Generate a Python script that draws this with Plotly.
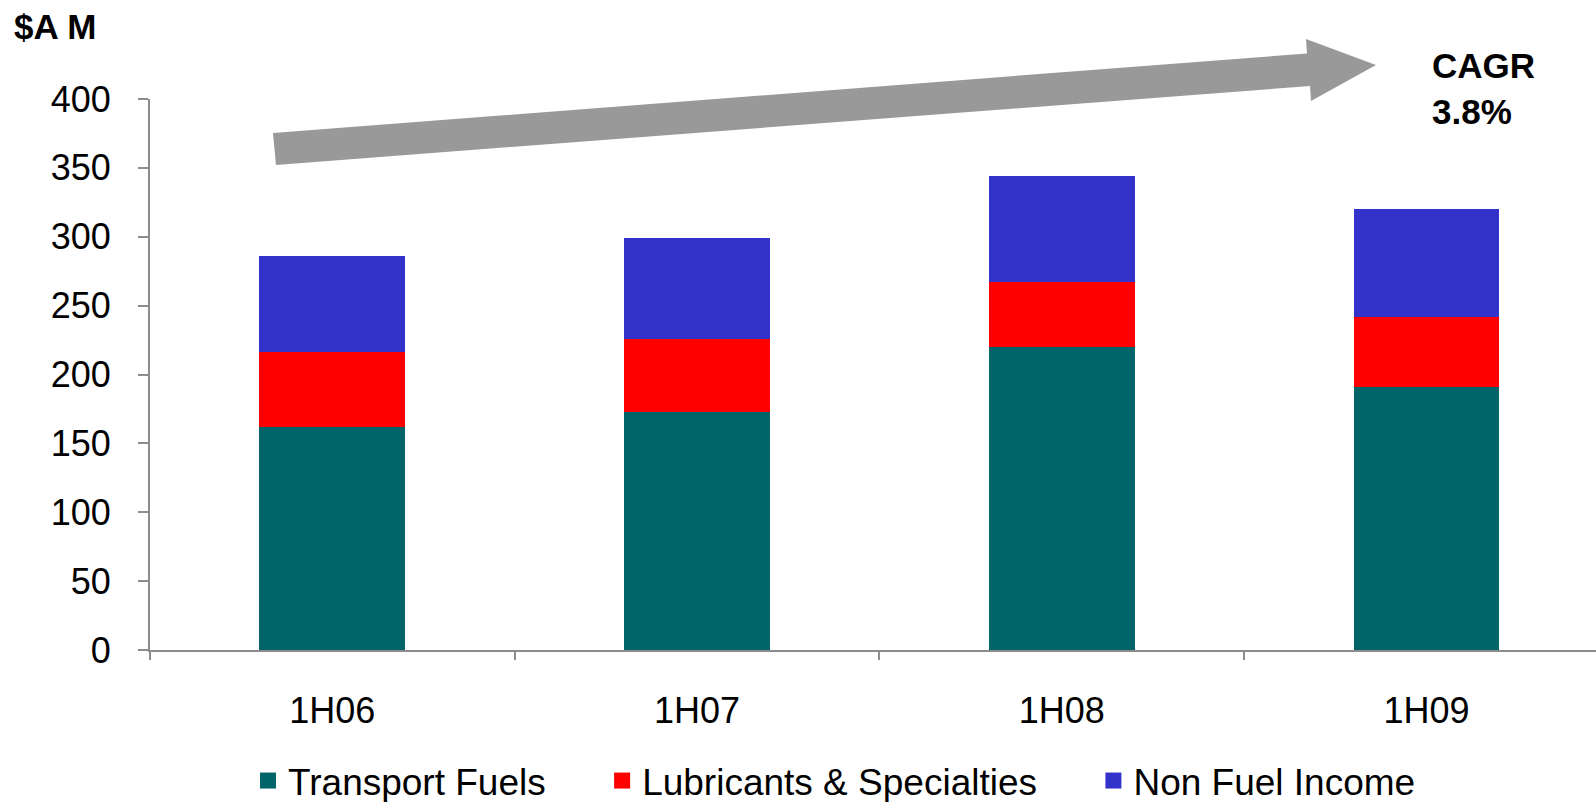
import plotly.graph_objects as go

categories = ["1H06", "1H07", "1H08", "1H09"]
transport_fuels = [162, 173, 220, 191]
lubricants = [54, 53, 47, 51]
non_fuel_income = [70, 73, 77, 78]
y_ticks = [0, 50, 100, 150, 200, 250, 300, 350, 400]

W, H = 1596, 802
L, R, T, B = 150, 0, 99, 152
PW, PH = W - L - R, H - T - B
FONT = "Liberation Sans, Arial, sans-serif"
NB = "\u00a0"

series = [
    ("Transport Fuels", transport_fuels, "#006469", 5),
    ("Lubricants & Specialties", lubricants, "#FF0000", 5),
    ("Non Fuel Income", non_fuel_income, "#3333CC", 0),
]

fig = go.Figure()
for name, vals, color, pad in series:
    fig.add_trace(go.Bar(x=categories, y=vals, name=name, showlegend=False,
                         marker=dict(color=color, line=dict(width=0))))
for name, vals, color, pad in series:
    fig.add_trace(go.Scatter(x=[None], y=[None], mode="markers", name=name + NB * pad,
                             marker=dict(symbol="square", size=16, color=color, line=dict(width=0)),
                             hoverinfo="skip"))


def px2paper(px, py):
    return (px - L) / PW, (H - B - py) / PH


arrow_px = [(273, 133), (1307, 53.5), (1306, 39), (1376, 65), (1311, 101), (1310, 86), (276, 165)]
pts = [px2paper(*p) for p in arrow_px]
path = "M " + " L ".join(f"{x:.5f},{y:.5f}" for x, y in pts) + " Z"
fig.add_shape(type="path", path=path, xref="paper", yref="paper",
              fillcolor="#999999", line=dict(width=0), layer="above")

fig.add_annotation(text="<b>$A M</b>", xref="paper", yref="paper",
                   x=px2paper(12, 0)[0], y=px2paper(0, 26)[1], xanchor="left", yanchor="middle",
                   showarrow=False, font=dict(size=35, color="black", family=FONT))
fig.add_annotation(text="<b>CAGR<br>3.8%</b>", xref="paper", yref="paper",
                   x=px2paper(1430, 0)[0], y=px2paper(0, 89)[1], xanchor="left", yanchor="middle",
                   align="left", showarrow=False, font=dict(size=35, color="black", family=FONT))

span = PW / 364.7
fig.update_layout(
    width=W, height=H,
    margin=dict(l=L, r=R, t=T, b=B, pad=0, autoexpand=False),
    barmode="stack", bargap=0.6,
    plot_bgcolor="white", paper_bgcolor="white",
    font=dict(family=FONT, size=36, color="black"),
    showlegend=True,
    legend=dict(orientation="h", x=px2paper(248, 0)[0], xanchor="left",
                y=px2paper(0, 781)[1], yanchor="middle",
                font=dict(size=37, family=FONT, color="black"),
                traceorder="normal", itemclick=False),
    xaxis=dict(range=[-0.5, -0.5 + span], showgrid=False, showline=True, linecolor="#8c8c8c",
               linewidth=2, ticks="outside", tickson="boundaries", ticklen=8, tickcolor="#8c8c8c",
               tickwidth=2, ticklabelstandoff=28, tickfont=dict(size=36), fixedrange=True,
               automargin=False),
    yaxis=dict(range=[0, 400], tickvals=y_ticks, showgrid=False, showline=True, linecolor="#8c8c8c",
               linewidth=2, ticks="outside", ticklen=10, tickcolor="#8c8c8c", tickwidth=2,
               ticklabelstandoff=20, tickfont=dict(size=36), zeroline=False, fixedrange=True,
               automargin=False),
)

fig.write_html("out.html", config={"displayModeBar": False},
               post_script="document.body.style.margin='0';document.body.style.overflow='hidden';")
